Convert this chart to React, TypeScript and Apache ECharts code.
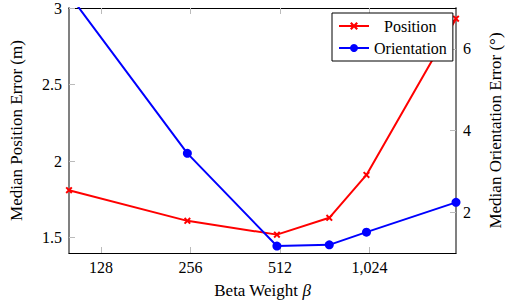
import React, { useEffect, useRef } from "react";
import * as echarts from "echarts";

const betaValues = [100, 250, 500, 750, 1000, 2000];
const positionError = [1.81, 1.61, 1.52, 1.63, 1.91, 2.93];
const orientationError = [7.33, 3.44, 1.17, 1.2, 1.51, 2.24];
const xTicks = [128, 256, 512, 1024];
const leftTicks = [1.5, 2, 2.5, 3];
const rightTicks = [2, 4, 6];
const seriesNames = ["Position", "Orientation"];

const FONT = "Liberation Serif";
const FS = 16;
const TFS = 17;
const crossPath =
  "path://M2,0 L5,3 L8,0 L10,2 L7,5 L10,8 L8,10 L5,7 L2,10 L0,8 L3,5 L0,2 Z";

export default function App() {
  const ref = useRef<HTMLDivElement>(null);
  useEffect(() => {
    if (!ref.current) return;
    const chart = echarts.init(ref.current, null, { renderer: "svg" });
    const xBase = {
      type: "log" as const,
      logBase: 2,
      min: 100,
      max: 2000,
      splitLine: { show: false },
      minorTick: { show: false },
      axisTick: {
        inside: true,
        length: 6,
        customValues: xTicks,
        lineStyle: { color: "#bbbbbb", width: 1 },
      },
    };
    const legendText = {
      fontFamily: FONT,
      fontSize: 16,
      color: "#000",
      lineHeight: 16,
    };
    chart.setOption({
      animation: false,
      textStyle: { fontFamily: FONT },
      grid: { left: 57, right: 43, top: 7, bottom: 50 },
      legend: {
        data: [
          { name: seriesNames[0], textStyle: { ...legendText, padding: [0, 0, 0, 10] } },
          { name: seriesNames[1], textStyle: legendText },
        ],
        orient: "vertical",
        left: 332,
        top: 13,
        padding: [5, 6, 5, 6],
        itemGap: 6,
        itemWidth: 30,
        itemHeight: 10,
        borderColor: "#000",
        borderWidth: 1,
        backgroundColor: "#fff",
        textStyle: legendText,
      },
      xAxis: [
        {
          ...xBase,
          position: "bottom",
          name: "Beta Weight {i|β}",
          nameLocation: "middle",
          nameGap: 29,
          nameTextStyle: {
            fontFamily: FONT,
            fontSize: TFS,
            color: "#000",
            rich: { i: { fontStyle: "italic", fontFamily: FONT, fontSize: TFS } },
          },
          axisLine: { lineStyle: { color: "#000", width: 1 } },
          axisLabel: {
            customValues: xTicks,
            margin: 6,
            fontFamily: FONT,
            fontSize: FS,
            color: "#000",
            formatter: (v: number) => Math.round(v).toLocaleString("en-US"),
          },
        },
        {
          ...xBase,
          position: "top",
          axisLine: { lineStyle: { color: "#000", width: 1 } },
          axisLabel: { show: false },
        },
      ],
      yAxis: [
        {
          type: "value",
          position: "left",
          min: 1.4,
          max: 3,
          name: "Median Position Error (m)",
          nameLocation: "middle",
          nameRotate: 90,
          nameGap: 44,
          nameTextStyle: { fontFamily: FONT, fontSize: TFS, color: "#000" },
          splitLine: { show: false },
          axisLine: { show: true, lineStyle: { color: "#808080", width: 2 } },
          axisTick: {
            show: true,
            inside: true,
            length: 6,
            customValues: leftTicks,
            lineStyle: { color: "#bbbbbb", width: 1 },
          },
          axisLabel: {
            customValues: leftTicks,
            margin: 7,
            fontFamily: FONT,
            fontSize: FS,
            color: "#000",
          },
        },
        {
          type: "value",
          position: "right",
          min: 1,
          max: 7,
          name: "Median Orientation Error (°)",
          nameLocation: "middle",
          nameRotate: 90,
          nameGap: 31,
          nameTextStyle: { fontFamily: FONT, fontSize: TFS, color: "#000" },
          splitLine: { show: false },
          axisLine: { show: true, lineStyle: { color: "#808080", width: 2 } },
          axisTick: {
            show: true,
            inside: true,
            length: 6,
            customValues: rightTicks,
            lineStyle: { color: "#bbbbbb", width: 1 },
          },
          axisLabel: {
            customValues: rightTicks,
            margin: 7,
            fontFamily: FONT,
            fontSize: FS,
            color: "#000",
          },
        },
      ],
      series: [
        {
          name: seriesNames[0],
          type: "line",
          xAxisIndex: 0,
          yAxisIndex: 0,
          data: betaValues.map((x, i) => [x, positionError[i]]),
          symbol: crossPath,
          symbolSize: 7,
          lineStyle: { color: "#ff0000", width: 2 },
          itemStyle: { color: "#ff0000" },
          clip: true,
        },
        {
          name: seriesNames[1],
          type: "line",
          xAxisIndex: 0,
          yAxisIndex: 1,
          data: betaValues.map((x, i) => [x, orientationError[i]]),
          symbol: "circle",
          symbolSize: 9,
          lineStyle: { color: "#0000ff", width: 2 },
          itemStyle: { color: "#0000ff" },
          clip: true,
        },
      ],
    });
    return () => chart.dispose();
  }, []);
  return (
    <div
      ref={ref}
      style={{ position: "absolute", left: 0, top: 0, width: 512, height: 304 }}
    />
  );
}
